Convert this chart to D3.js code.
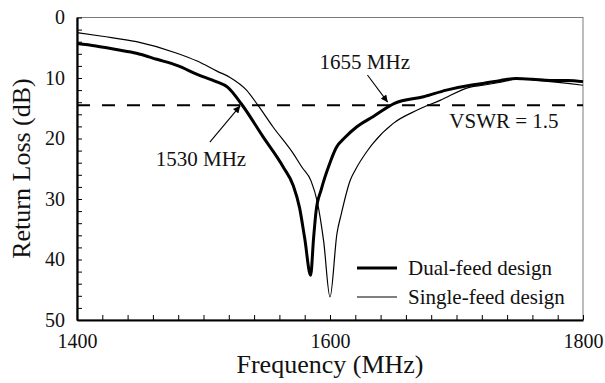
<!DOCTYPE html>
<html>
<head>
<meta charset="utf-8">
<script src="https://cdn.jsdelivr.net/npm/d3@7"></script>
<style>
  html, body { margin: 0; padding: 0; background: #fff; }
  svg { display: block; }
</style>
</head>
<body>
<svg id="chart" width="605" height="383"></svg>
<script>
// ---- data ----
const dualFreq = [1400, 1415, 1431, 1447, 1463, 1480, 1495, 1510, 1519, 1530, 1547, 1563, 1571, 1576, 1580, 1584.7, 1587, 1589, 1593, 1600, 1605, 1612, 1621, 1634, 1651, 1674, 1692, 1711, 1721, 1735, 1747, 1760, 1774, 1788, 1800];
const dualLoss = [4.3, 4.7, 5.3, 5.9, 6.9, 8.0, 9.4, 10.6, 11.5, 14.3, 19.7, 24.7, 27.8, 31.5, 36.5, 42.6, 36.5, 32.0, 28.5, 24.0, 21.5, 19.8, 18.1, 16.4, 14.2, 13.1, 12.0, 11.2, 10.9, 10.4, 10.1, 10.2, 10.4, 10.4, 10.6];

const singleFreq = [1400, 1420, 1447, 1479, 1495, 1511, 1521, 1534, 1543, 1555, 1571, 1578, 1585, 1590, 1595, 1600, 1605.5, 1609, 1616, 1620, 1630, 1634, 1650, 1669, 1687, 1711, 1721, 1735, 1747, 1760, 1774, 1788, 1800];
const singleLoss = [2.5, 3.1, 4.0, 5.9, 7.2, 8.9, 9.9, 12.0, 14.5, 18.1, 22.5, 24.8, 27.0, 30.5, 37.0, 46.2, 35.7, 32.4, 26.9, 25.2, 21.9, 20.8, 17.5, 15.3, 13.7, 11.5, 11.2, 10.7, 10.2, 10.3, 10.6, 10.9, 11.2];

const vswrLevel = 14.5;
const xTicks = [1400, 1600, 1800];
const yTicks = [0, 10, 20, 30, 40, 50];
const seriesNames = ["Dual-feed design", "Single-feed design"];

const FONT = "'Liberation Serif', 'Times New Roman', serif";

// ---- layout ----
const svg = d3.select("#chart");
const pL = 77, pR = 583, pT = 17.5, pB = 320;
const x = d3.scaleLinear().domain([1400, 1800]).range([pL, pR]);
const y = d3.scaleLinear().domain([0, 50]).range([pT, pB]);

// frame (top/right thin gray)
svg.append("rect").attr("x", pL).attr("y", pT)
  .attr("width", pR - pL).attr("height", pB - pT)
  .attr("fill", "none").attr("stroke", "#7a7a7a").attr("stroke-width", 1);

// axes
const xAxis = d3.axisBottom(x)
  .tickValues(d3.range(1400, 1801, 20))
  .tickSizeInner(-5).tickSizeOuter(0).tickPadding(14)
  .tickFormat(d => xTicks.includes(d) ? d : "");
const gx = svg.append("g").attr("transform", `translate(0,${pB})`).call(xAxis)
  .attr("font-family", FONT).attr("font-size", 20);
gx.select(".domain").attr("stroke", "#000").attr("stroke-width", 2.2);
gx.selectAll(".tick line").attr("stroke", "#000").attr("stroke-width", 1);
gx.selectAll(".tick text").attr("fill", "#111");

const yAxis = d3.axisLeft(y)
  .tickValues(d3.range(0, 51, 2))
  .tickSizeInner(-5).tickSizeOuter(0).tickPadding(12)
  .tickFormat(d => yTicks.includes(d) ? d : "");
const gy = svg.append("g").attr("transform", `translate(${pL},0)`).call(yAxis)
  .attr("font-family", FONT).attr("font-size", 20);
gy.select(".domain").attr("stroke", "#000").attr("stroke-width", 2.2);
gy.selectAll(".tick line").attr("stroke", "#000").attr("stroke-width", 1);
gy.selectAll(".tick text").attr("fill", "#111");

// dashed VSWR line
svg.append("line")
  .attr("x1", x(1400)).attr("x2", x(1800))
  .attr("y1", y(vswrLevel)).attr("y2", y(vswrLevel))
  .attr("stroke", "#000").attr("stroke-width", 2)
  .attr("stroke-dasharray", "13,12");

// curves
const line = d3.line().x(d => x(d[0])).y(d => y(d[1])).curve(d3.curveMonotoneX);
const plot = svg.append("g");
plot.append("path")
  .datum(singleFreq.map((f, i) => [f, singleLoss[i]]))
  .attr("d", line).attr("fill", "none").attr("stroke", "#000").attr("stroke-width", 1.2);
plot.append("path")
  .datum(dualFreq.map((f, i) => [f, dualLoss[i]]))
  .attr("d", line).attr("fill", "none").attr("stroke", "#000").attr("stroke-width", 3);

// arrow marker
svg.append("defs").append("marker")
  .attr("id", "arr").attr("viewBox", "0 0 10 10").attr("refX", 10).attr("refY", 5)
  .attr("markerWidth", 9).attr("markerHeight", 7).attr("markerUnits", "userSpaceOnUse")
  .attr("orient", "auto")
  .append("path").attr("d", "M0,0 L10,5 L0,10 z").attr("fill", "#000");

// annotations (in data units)
const annos = [
  { text: "1530 MHz", tx: 1498, ty: 24.6, from: [1505, 20.6], to: [1529, 14.6] },
  { text: "1655 MHz", tx: 1627.5, ty: 8.5, from: [1629.6, 9.5], to: [1645.6, 14.0] }
];
annos.forEach(a => {
  svg.append("text").attr("x", x(a.tx)).attr("y", y(a.ty)).attr("font-family", FONT)
    .attr("text-anchor", "middle").attr("font-size", 21).attr("fill", "#111").text(a.text);
  svg.append("line")
    .attr("x1", x(a.from[0])).attr("y1", y(a.from[1]))
    .attr("x2", x(a.to[0])).attr("y2", y(a.to[1]))
    .attr("stroke", "#000").attr("stroke-width", 1.1).attr("marker-end", "url(#arr)");
});
svg.append("text").attr("x", x(1737.5)).attr("y", y(18.3)).attr("font-family", FONT)
  .attr("text-anchor", "middle").attr("font-size", 21).attr("fill", "#111").text("VSWR = 1.5");

// legend
const leg = svg.append("g");
[[3, 268, 275], [1.2, 297, 303.5]].forEach((s, i) => {
  leg.append("line").attr("x1", 357).attr("x2", 397).attr("y1", s[1]).attr("y2", s[1])
    .attr("stroke", "#000").attr("stroke-width", s[0]);
  leg.append("text").attr("x", 408).attr("y", s[2]).attr("font-size", 21).attr("font-family", FONT)
    .attr("fill", "#111").text(seriesNames[i]);
});

// axis titles
svg.append("text").attr("x", (pL + pR) / 2).attr("y", 373).attr("font-family", FONT)
  .attr("text-anchor", "middle").attr("font-size", 26).attr("fill", "#111")
  .text("Frequency (MHz)");
svg.append("text").attr("transform", "translate(30,168.5) rotate(-90)").attr("font-family", FONT)
  .attr("text-anchor", "middle").attr("font-size", 26).attr("fill", "#111")
  .text("Return Loss (dB)");
</script>
</body>
</html>
